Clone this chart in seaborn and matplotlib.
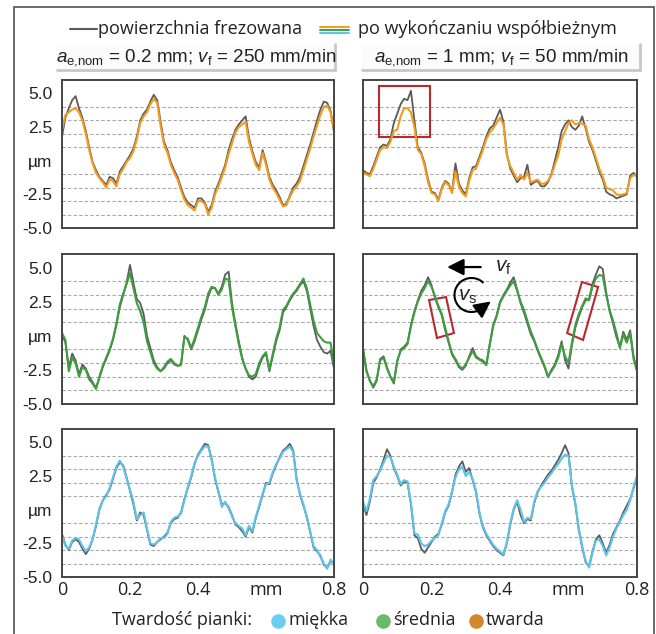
"""Surface profiles after milling vs. after climb finishing, three foam hardnesses"""

import numpy as np
import pandas as pd
import seaborn as sns
from matplotlib import pyplot as plt
from matplotlib.lines import Line2D
from matplotlib.patches import Rectangle, Polygon, Arc, FancyArrowPatch

# profile sampled every 0.01 mm, 0 ... 0.8 mm
x_mm = np.round(np.arange(81) * 0.01, 2)

# row 1 - hard foam (orange), left: a_e,nom = 0.2 mm, right: a_e,nom = 1 mm
milled_hard_a02 = [
    1.8, 3.2, 3.9, 4.5, 4.8, 3.9, 3.2, 2.2, 1.0, -0.1,
    -0.7, -1.2, -1.5, -1.8, -1.2, -1.3, -1.7, -0.8, -0.4, 0.0,
    0.4, 0.9, 1.8, 3.0, 3.5, 3.8, 4.4, 4.9, 4.5, 2.9,
    1.4, 0.8, -0.1, -0.7, -1.2, -2.0, -2.7, -3.1, -3.3, -3.5,
    -2.8, -2.8, -3.1, -3.8, -3.3, -2.3, -1.7, -1.0, -0.3, 0.8,
    1.6, 2.3, 2.7, 3.0, 3.3, 1.7, 0.7, -0.1, -0.5, 0.8,
    -0.1, -1.2, -1.8, -2.2, -2.7, -3.3, -3.2, -2.6, -2.0, -1.7,
    -1.2, -0.4, 0.4, 1.2, 2.1, 3.0, 3.8, 4.4, 4.3, 3.7, 2.1]
finished_hard_a02 = [
    2.3, 3.4, 3.6, 3.8, 3.9, 3.6, 3.0, 2.0, 0.8, -0.2,
    -0.9, -1.3, -1.6, -2.0, -1.4, -1.5, -1.9, -1.0, -0.6, -0.1,
    0.2, 0.7, 1.6, 2.8, 3.3, 3.6, 4.2, 4.6, 4.3, 2.6,
    1.2, 0.6, -0.3, -0.9, -1.4, -2.2, -2.9, -3.3, -3.5, -3.7,
    -3.0, -3.0, -3.2, -4.0, -3.5, -2.5, -1.9, -1.2, -0.5, 0.5,
    1.3, 2.1, 2.5, 2.7, 2.9, 1.4, 0.5, -0.3, -0.7, 0.6,
    -0.3, -1.4, -2.0, -2.4, -2.9, -3.4, -3.3, -2.7, -2.2, -1.9,
    -1.5, -0.7, 0.1, 0.9, 1.8, 2.6, 3.4, 4.0, 4.1, 3.6, 2.3]
milled_hard_a1 = [
    -0.7, -0.9, -1.0, -0.4, 0.3, 1.0, 1.2, 1.1, 1.6, 2.8,
    3.5, 4.2, 4.6, 4.5, 5.2, 3.0, 1.0, 0.6, -0.2, -1.4,
    -2.3, -2.4, -2.9, -2.0, -1.5, -1.7, -2.3, -0.2, -1.7, -2.2,
    -2.5, -1.3, -0.5, -0.4, 0.3, 1.0, 1.8, 2.4, 2.6, 3.2,
    3.8, 2.9, 0.5, -0.6, -1.1, -1.6, -1.3, -1.2, -0.3, -1.8,
    -1.6, -1.5, -1.9, -1.9, -1.6, -1.0, 0.0, 1.0, 2.2, 2.7,
    3.0, 2.5, 2.3, 2.6, 3.3, 2.4, 1.4, 0.8, 0.0, -0.8,
    -1.4, -2.3, -2.5, -2.6, -2.8, -2.7, -2.6, -2.5, -1.1, -0.9, -1.2]
finished_hard_a1 = [
    -0.9, -1.0, -1.15, -0.6, 0.1, 0.8, 1.0, 0.95, 1.4, 2.2,
    2.3, 3.3, 3.9, 3.9, 3.6, 2.5, 0.8, 0.5, -0.4, -1.6,
    -2.4, -2.5, -3.0, -2.1, -1.6, -1.8, -2.4, -0.8, -1.9, -2.4,
    -2.65, -1.5, -0.7, -0.6, 0.1, 0.8, 1.6, 2.1, 2.4, 2.8,
    3.2, 2.7, 0.4, -0.4, -0.9, -1.4, -1.1, -1.4, -0.9, -1.6,
    -1.5, -1.4, -1.7, -1.7, -1.5, -1.1, -0.3, 0.4, 1.6, 2.2,
    2.8, 3.0, 2.7, 2.8, 2.75, 2.6, 1.6, 1.0, 0.2, -0.6,
    -1.2, -2.0, -2.1, -2.2, -2.5, -2.55, -2.5, -2.4, -1.3, -1.05, -1.15]

# row 2 - medium foam (green)
milled_medium_a02 = [
    0.1, -0.5, -2.3, -1.3, -1.8, -2.8, -2.1, -2.4, -3.0, -3.4,
    -3.8, -3.1, -2.3, -1.7, -1.1, -0.3, 0.8, 2.1, 3.0, 3.9,
    5.2, 3.9, 2.7, 2.4, 1.6, 0.0, -0.9, -1.8, -2.3, -2.6,
    -2.4, -2.0, -1.8, -2.1, -2.2, -2.1, 0.0, -0.3, -1.0, -0.4,
    0.4, 1.2, 1.9, 2.9, 3.5, 3.5, 3.1, 3.6, 4.5, 4.7,
    2.4, 0.9, -0.4, -1.6, -2.4, -3.0, -3.2, -3.0, -2.2, -1.6,
    -1.3, -2.6, -1.5, -0.4, 0.4, 1.7, 2.1, 2.6, 3.0, 3.3,
    3.7, 4.0, 3.3, 2.0, 0.7, -0.3, -0.8, -1.2, -1.3, -1.1, -2.4]
finished_medium_a02 = [
    0.2, -0.3, -2.6, -1.6, -2.0, -3.0, -2.3, -2.5, -3.2, -3.5,
    -3.9, -3.0, -2.2, -1.6, -1.0, -0.2, 0.9, 2.3, 3.1, 3.8,
    4.6, 3.5, 2.4, 1.8, 1.0, -0.4, -1.2, -2.0, -2.4, -2.6,
    -2.3, -1.9, -1.7, -2.0, -2.2, -2.15, -0.1, -0.2, -0.9, -0.2,
    0.6, 1.4, 2.1, 3.1, 3.6, 3.5, 3.0, 3.4, 4.2, 4.1,
    2.1, 0.7, -0.6, -1.7, -2.4, -2.9, -3.0, -2.8, -2.0, -1.5,
    -1.2, -2.5, -1.3, -0.2, 0.6, 1.9, 2.2, 2.7, 3.1, 3.4,
    3.8, 4.2, 3.5, 2.3, 1.1, 0.2, -0.1, -0.4, -0.5, -0.5, -2.1]
milled_medium_a1 = [
    -0.9, -2.5, -3.3, -3.8, -3.3, -1.7, -1.5, -2.3, -3.0, -3.5,
    -1.9, -1.0, -0.8, -0.5, 0.8, 1.8, 2.6, 3.3, 3.7, 4.3,
    3.7, 2.8, 2.1, 1.5, 0.4, -0.5, -1.4, -1.8, -2.3, -2.5,
    -2.2, -1.5, -0.9, -1.5, -1.7, -1.8, -2.1, -0.6, 0.8, 1.5,
    2.5, 3.0, 3.4, 3.9, 4.3, 3.4, 2.4, 1.7, 0.9, 0.1,
    -0.4, -1.1, -1.7, -2.3, -3.0, -2.5, -2.1, -1.4, -0.4, -1.8,
    -2.4, -0.7, 0.6, 1.4, 2.1, 2.6, 2.7, 3.8, 4.5, 5.1,
    4.9, 3.2, 1.8, 0.9, -0.1, -0.8, 0.3, -0.3, 0.4, -1.5, -2.5]
finished_medium_a1 = [
    -1.0, -2.6, -3.3, -3.7, -3.2, -1.8, -1.6, -2.4, -3.0, -3.4,
    -1.8, -1.1, -0.9, -0.6, 0.7, 1.7, 2.5, 3.1, 3.5, 4.0,
    3.6, 2.9, 2.2, 1.6, 0.6, -0.4, -1.3, -1.7, -2.2, -2.4,
    -2.1, -1.6, -1.1, -1.6, -1.75, -1.9, -2.15, -0.7, 0.7, 1.4,
    2.4, 2.9, 3.3, 3.7, 4.0, 3.3, 2.5, 1.9, 1.1, 0.3,
    -0.3, -1.0, -1.6, -2.2, -3.0, -2.6, -2.2, -1.6, -0.6, -1.5,
    -2.0, -0.5, 0.8, 1.6, 2.2, 2.75, 2.6, 3.6, 4.2, 4.46,
    4.4, 3.0, 1.9, 1.1, 0.2, -0.9, 0.1, -0.5, 0.2, -1.7, -2.6]

# row 3 - soft foam (blue)
milled_soft_a02 = [
    -1.8, -2.6, -3.0, -2.4, -2.2, -2.4, -2.9, -3.3, -2.9, -2.2,
    -1.2, 0.0, 0.7, 1.1, 1.5, 2.3, 3.1, 3.5, 3.3, 2.4,
    1.4, 0.4, -0.8, -0.2, -0.4, -1.5, -2.6, -2.7, -2.4, -2.2,
    -2.0, -1.7, -1.0, -0.7, -0.6, -0.2, 0.8, 1.6, 2.4, 3.4,
    4.1, 4.5, 4.9, 4.8, 3.8, 2.3, 1.3, 0.4, 0.5, 0.2,
    -0.4, -1.1, -1.3, -1.6, -2.0, -1.3, -1.7, -0.6, 0.2, 1.1,
    2.0, 1.9, 2.7, 3.3, 3.9, 4.4, 4.6, 4.9, 4.4, 2.3,
    1.1, 0.3, -0.5, -1.7, -2.8, -3.1, -3.4, -4.1, -4.3, -3.8, -4.0]
finished_soft_a02 = [
    -1.9, -2.7, -2.9, -2.3, -2.1, -2.2, -2.7, -3.1, -2.8, -2.2,
    -1.1, 0.1, 0.7, 1.0, 1.6, 2.4, 3.2, 3.65, 3.2, 2.3,
    1.5, 0.6, -0.7, -0.4, -0.2, -1.4, -2.5, -2.6, -2.4, -2.1,
    -2.1, -1.8, -0.9, -0.6, -0.5, -0.3, 0.7, 1.7, 2.5, 3.5,
    4.0, 4.4, 4.7, 4.7, 3.7, 2.4, 1.4, 0.2, 0.6, 0.1,
    -0.5, -1.0, -1.2, -1.4, -1.9, -1.2, -1.6, -0.5, 0.3, 1.2,
    1.9, 2.0, 2.8, 3.4, 3.8, 4.3, 4.5, 4.7, 4.3, 2.2,
    1.2, 0.4, -0.6, -1.6, -2.7, -3.0, -3.5, -4.0, -4.4, -3.7, -4.1]
milled_soft_a1 = [
    0.5, -0.4, 0.6, 2.0, 2.4, 3.0, 3.7, 4.5, 4.0, 3.1,
    2.5, 1.8, 2.1, 2.0, 0.4, -1.9, -2.1, -2.9, -3.2, -2.8,
    -2.4, -2.0, -1.8, -1.1, -0.2, 0.3, 1.3, 2.6, 3.2, 3.6,
    2.8, 3.1, 2.2, 1.3, -0.3, -1.3, -1.9, -2.3, -2.7, -3.0,
    -3.2, -3.4, -2.5, -1.1, 0.0, 0.6, -0.4, -1.0, -0.7, -0.8,
    0.5, 1.3, 1.8, 2.2, 2.6, 2.9, 3.3, 3.7, 4.2, 4.8,
    4.2, 1.7, 0.4, -1.5, -2.8, -3.9, -4.2, -3.1, -2.2, -1.9,
    -2.5, -3.2, -2.6, -1.8, -1.3, -0.8, -0.2, 0.3, 0.8, 1.6, 2.4]
finished_soft_a1 = [
    0.6, -0.1, 0.8, 2.2, 2.5, 2.9, 3.5, 4.0, 3.9, 3.2,
    2.6, 1.9, 2.2, 2.1, 0.5, -1.75, -1.85, -2.5, -2.7, -2.6,
    -2.3, -2.1, -1.9, -1.0, -0.1, 0.4, 1.4, 2.4, 3.0, 3.2,
    2.5, 2.8, 2.3, 1.4, -0.2, -1.2, -1.8, -2.2, -2.6, -2.9,
    -3.1, -3.34, -2.4, -1.0, 0.1, 0.7, 0.0, -0.9, -0.6, -0.7,
    0.6, 1.4, 1.7, 2.0, 2.4, 2.7, 3.1, 3.4, 3.8, 4.1,
    4.0, 1.8, 0.5, -1.4, -2.7, -3.8, -4.3, -3.2, -2.3, -2.2,
    -2.7, -3.4, -2.8, -2.0, -1.4, -0.9, -0.4, 0.0, 0.7, 1.7, 2.5]

column_titles = [r"$\it{a}_{\rm e{,}nom}$ = 0.2 mm; $\it{v}_{\rm f}$ = 250 mm/min",
                 r"$\it{a}_{\rm e{,}nom}$ = 1 mm; $\it{v}_{\rm f}$ = 50 mm/min"]
hardness_labels = ["miękka", "średnia", "twarda"]
y_ticks = [-5, -2.5, 0, 2.5, 5]
y_ticklabels = ["-5.0", "-2.5", "µm", "2.5", "5.0"]
x_ticks = [0, 0.2, 0.4, 0.6, 0.8]
x_ticklabels = ["0", "0.2", "0.4", "mm", "0.8"]
grid_levels = [-4, -3, -2, -1, 0, 1, 2, 3, 4, 5]

GREY = "#5a5a5a"
ORANGE = "#f29b1d"
GREEN = "#3f9e3f"
BLUE = "#5cc3ea"
RED = "#b8282e"
HEAD = "-|>,head_length=0.5,head_width=0.25"

sns.set_style("white")
plt.rcParams["font.family"] = ["Open Sans", "DejaVu Sans"]
plt.rcParams["mathtext.fontset"] = "custom"
plt.rcParams["mathtext.rm"] = "Liberation Sans"
plt.rcParams["mathtext.it"] = "Liberation Sans:italic"

W, H = 656, 634


def fx(px):
    return px / W


def fy(py):
    return 1 - py / H


fig = plt.figure(figsize=(W / 100, H / 100), dpi=100)
fig.patch.set_facecolor("white")

# outer frame
fig.add_artist(Rectangle((fx(14), fy(700)), fx(654) - fx(14), fy(7) - fy(700),
                         transform=fig.transFigure, fill=False, ec="#505050", lw=1.2))

rows = [
    (ORANGE, milled_hard_a02, finished_hard_a02, milled_hard_a1, finished_hard_a1),
    (GREEN, milled_medium_a02, finished_medium_a02, milled_medium_a1, finished_medium_a1),
    (BLUE, milled_soft_a02, finished_soft_a02, milled_soft_a1, finished_soft_a1),
]
row_px = [(80, 228), (254, 404), (429, 577)]
col_px = [(62, 334), (363, 637)]

axes = []
for r, (color, m_left, f_left, m_right, f_right) in enumerate(rows):
    top, bottom = row_px[r]
    row_axes = []
    for c, (milled, finished) in enumerate([(m_left, f_left), (m_right, f_right)]):
        left, right = col_px[c]
        ax = fig.add_axes([fx(left), fy(bottom), (right - left) / W, (bottom - top) / H])
        df = pd.DataFrame({"x": x_mm, "milled": milled, "finished": finished})
        sns.lineplot(data=df, x="x", y="milled", ax=ax, color=GREY, lw=1.3)
        sns.lineplot(data=df, x="x", y="finished", ax=ax, color=color, lw=1.5)
        ax.set_xlim(0, 0.8)
        ax.set_ylim(-5, 6)
        ax.set_xlabel("")
        ax.set_ylabel("")
        ax.set_yticks(grid_levels, minor=True)
        ax.grid(False)
        ax.grid(which="minor", axis="y", ls=(0, (3, 2)), color="#a8a8a8", lw=0.8)
        ax.tick_params(which="both", length=0)
        ax.set_yticks(y_ticks)
        if c == 0:
            ax.set_yticklabels(y_ticklabels, family="Liberation Sans", fontsize=12.5,
                               color="#222222")
            ax.tick_params(axis="y", pad=7)
        else:
            ax.set_yticklabels([])
        ax.set_xticks(x_ticks)
        if r == 2:
            ax.set_xticklabels(x_ticklabels, fontsize=13, color="#222222")
            ax.tick_params(axis="x", pad=3)
        else:
            ax.set_xticklabels([])
        for s in ax.spines.values():
            s.set_color("#454545")
            s.set_linewidth(1.4)
        row_axes.append(ax)
    axes.append(row_axes)

# red boxes and speed arrows
ax = axes[0][1]
ax.add_patch(Rectangle((0.058, 0.615), 0.187, 0.344, transform=ax.transAxes,
                       fill=False, ec=RED, lw=1.5))
ax = axes[1][1]
ax.add_patch(Polygon([(0.241, 0.693), (0.303, 0.713), (0.332, 0.473), (0.270, 0.44)],
                     closed=True, transform=ax.transAxes, fill=False, ec=RED, lw=1.5))
ax.add_patch(Polygon([(0.745, 0.473), (0.799, 0.813), (0.858, 0.78), (0.803, 0.427)],
                     closed=True, transform=ax.transAxes, fill=False, ec=RED, lw=1.5))
ax.annotate("", xy=(0.297, 0.913), xytext=(0.44, 0.913), xycoords="axes fraction",
            arrowprops=dict(arrowstyle=HEAD, color="black", lw=1.6, mutation_scale=20))
ax.text(0.48, 0.915, r"$\it{v}_{\rm f}$", transform=ax.transAxes, fontsize=15,
        ha="left", va="center")
cx, cy, rad = 4.715, 6.34 - 2.95, 0.17
fig.add_artist(Arc((cx, cy), 2 * rad, 2 * rad, theta1=45, theta2=318,
                   transform=fig.dpi_scale_trans, color="black", lw=1.5))
ang = np.deg2rad(318)
ex, ey = cx + rad * np.cos(ang), cy + rad * np.sin(ang)
fig.add_artist(FancyArrowPatch((ex, ey), (ex + 0.11 * 0.8, ey + 0.11 * 0.6),
                               transform=fig.dpi_scale_trans, arrowstyle=HEAD,
                               mutation_scale=20, color="black", lw=1.5))
fig.text(fx(468), fy(296), r"$\it{v}_{\rm s}$", fontsize=15, ha="center", va="center")

# column titles in shaded boxes
for c, title in enumerate(column_titles):
    left, right = [(57, 335), (362, 640)][c]
    fig.add_artist(Rectangle((fx(left), fy(70)), (right - left) / W, 25 / H,
                             transform=fig.transFigure, fc="#fbfbfb", ec="none"))
    fig.add_artist(Line2D([fx(left), fx(right)], [fy(70), fy(70)], color="#c8c8c8", lw=2))
    fig.add_artist(Line2D([fx(right), fx(right)], [fy(70), fy(44)], color="#c8c8c8", lw=2))
    fig.text(fx((left + right) / 2), fy(58), title, fontsize=13.5, ha="center",
             va="center", family="Liberation Sans", color="#222222")

# top legend
fig.add_artist(Line2D([fx(70), fx(97)], [fy(29), fy(29)], color=GREY, lw=1.5))
fig.text(fx(98), fy(29), "powierzchnia frezowana", fontsize=13, ha="left",
         va="center", color="#222222")
for dy, col in zip([-3, 0, 3], [ORANGE, GREEN, BLUE]):
    fig.add_artist(Line2D([fx(320), fx(349)], [fy(30 + dy), fy(30 + dy)], color=col, lw=1.4))
fig.text(fx(358), fy(29), "po wykończaniu współbieżnym", fontsize=13, ha="left",
         va="center", color="#222222")

# bottom legend
fig.text(fx(112), fy(620), "Twardość pianki:", fontsize=13, ha="left", va="center",
         color="#222222")
dot_colors = ["#6ccdf3", "#6cb96c", "#d4872c"]
for lab, col, dot_px in zip(hardness_labels, dot_colors, [278, 383, 476]):
    fig.add_artist(Line2D([fx(dot_px)], [fy(621)], marker="o", markersize=9.5,
                          color=col, lw=0))
    fig.text(fx(dot_px + 10), fy(620), lab, fontsize=13, ha="left", va="center",
             color="#222222")

fig.savefig("out.png", dpi=100)
